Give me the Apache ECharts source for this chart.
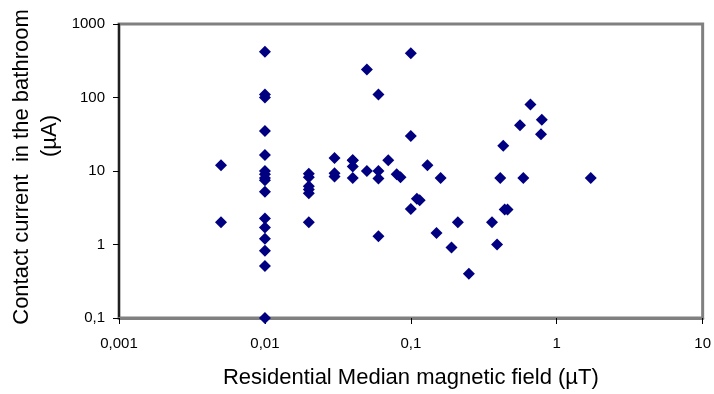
<!DOCTYPE html>
<html>
<head>
<meta charset="utf-8">
<script src="https://cdn.jsdelivr.net/npm/echarts@6/dist/echarts.min.js"></script>
<style>
html,body{margin:0;padding:0;background:#fff;}
#c{width:714px;height:394px;}
</style>
</head>
<body>
<div id="c"></div>
<script>
// Residential median magnetic field (µT)
const fieldValues = [
  0.005, 0.005,
  0.01, 0.01, 0.01, 0.01, 0.01, 0.01, 0.01, 0.01, 0.01, 0.01, 0.01, 0.01, 0.01, 0.01, 0.01, 0.01,
  0.02, 0.02, 0.02, 0.02, 0.02, 0.02,
  0.03, 0.03, 0.03,
  0.04, 0.04, 0.04, 0.04,
  0.05, 0.05,
  0.06, 0.06, 0.06, 0.06,
  0.07,
  0.08, 0.085,
  0.1, 0.1, 0.1, 0.11, 0.115,
  0.13, 0.15, 0.16, 0.19, 0.21, 0.25,
  0.36, 0.39, 0.41, 0.43, 0.44, 0.46,
  0.56, 0.59, 0.66, 0.78, 0.79,
  1.71
];
// Contact current in the bathroom (µA)
const currentValues = [
  12, 2,
  420, 110, 100, 35, 16.5, 10, 9, 8, 5.2, 2.25, 1.7, 1.2, 0.82, 0.51, 0.1, 7.5,
  9.2, 8.2, 6.2, 5.6, 5, 2,
  15, 9.3, 8.4,
  14, 11.5, 8, 14,
  240, 10,
  110, 10, 7.9, 1.3,
  14,
  9, 8.2,
  400, 30, 3.05, 4.2, 4,
  12, 1.43, 8, 0.91, 2, 0.4,
  2, 1, 8, 22, 3, 3,
  42, 8, 80, 31.5, 50,
  8
];
const xTickValues = [0.001, 0.01, 0.1, 1, 10];
const yTickValues = [0.1, 1, 10, 100, 1000];
const xTitle = 'Residential Median magnetic field (µT)';
const yTitleLines = ['Contact current  in the bathroom', '(µA)'];

const points = fieldValues.map((x, i) => [x, currentValues[i]]);
const fmt = v => Number(Number(v).toPrecision(3)).toString().replace('.', ',');
const font = "'Liberation Sans', Arial, sans-serif";

const chart = echarts.init(document.getElementById('c'), null, {renderer: 'canvas'});
chart.setOption({
  animation: false,
  backgroundColor: '#ffffff',
  grid: {
    left: 119, right: 9, top: 24, bottom: 73,
    show: true, borderColor: '#808080', borderWidth: 3, backgroundColor: '#ffffff'
  },
  xAxis: {
    type: 'log', logBase: 10,
    min: xTickValues[0], max: xTickValues[xTickValues.length - 1],
    name: xTitle, nameLocation: 'middle', nameGap: 49,
    nameTextStyle: {fontFamily: font, fontSize: 22, color: '#000'},
    axisLine: {show: true, lineStyle: {color: '#808080', width: 3}},
    axisTick: {show: true, length: 6, lineStyle: {color: '#000', width: 1}},
    axisLabel: {fontFamily: font, fontSize: 15, color: '#000', margin: 18, formatter: fmt},
    splitLine: {show: false},
    minorTick: {show: false}
  },
  yAxis: {
    type: 'log', logBase: 10,
    min: yTickValues[0], max: yTickValues[yTickValues.length - 1],
    axisLine: {show: true, lineStyle: {color: '#000', width: 1.5}},
    axisTick: {show: true, length: 6, lineStyle: {color: '#000', width: 1}},
    axisLabel: {fontFamily: font, fontSize: 15, color: '#000', margin: 14, formatter: fmt},
    splitLine: {show: false}
  },
  graphic: [
    {type: 'text', x: 22, y: 167, rotation: Math.PI / 2,
     style: {text: yTitleLines[0], fontFamily: font, fontSize: 22, fill: '#000', textAlign: 'center', textVerticalAlign: 'middle'}},
    {type: 'text', x: 50, y: 136, rotation: Math.PI / 2,
     style: {text: yTitleLines[1], fontFamily: font, fontSize: 22, fill: '#000', textAlign: 'center', textVerticalAlign: 'middle'}}
  ],
  series: [{
    type: 'scatter',
    symbol: 'diamond',
    symbolSize: 12,
    itemStyle: {color: '#000080', opacity: 1},
    data: points
  }]
});
</script>
</body>
</html>
